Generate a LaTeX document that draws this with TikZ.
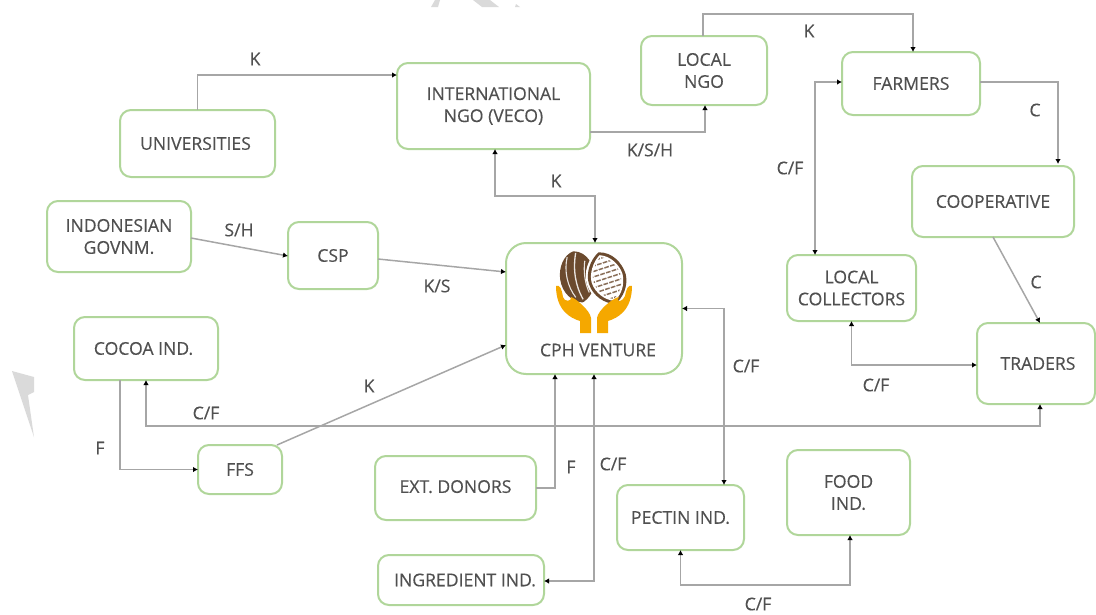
\documentclass[tikz,border=0pt]{standalone}
\usepackage{fontspec}
\setmainfont{Open Sans}[FakeBold=0.3]
\usetikzlibrary{arrows.meta}
\definecolor{boxgreen}{HTML}{B0D69A}
\definecolor{txt}{HTML}{505050}
\definecolor{conn}{HTML}{A6A6A6}
\definecolor{wm}{HTML}{DADADA}
\definecolor{hand}{HTML}{F5A800}
\definecolor{pod}{HTML}{6B4A2E}
\tikzset{
  x=1pt,y=-1pt,
  bx/.style={draw=boxgreen,line width=2pt,rounded corners=11pt,fill=white,align=center,
    text=txt,font=\fontsize{17.6}{22}\selectfont,inner sep=0pt,outer sep=0pt},
  lb/.style={text=txt,font=\fontsize{17.6}{20}\selectfont,inner sep=0pt},
  cn/.style={draw=conn,line width=1.5pt,-{Latex[length=5pt,width=5.5pt,black]}},
  cb/.style={draw=conn,line width=1.5pt,{Latex[length=5pt,width=5.5pt,black]}-{Latex[length=5pt,width=5.5pt,black]}},
}
\begin{document}
\begin{tikzpicture}
\useasboundingbox (0,0) rectangle (1096,614);
% watermark
\fill[wm] (431,7) -- (435,0) -- (440,0) -- (438,7) -- cycle;
\fill[wm] (473,0) -- (490,0) -- (499,7) -- (482,7) -- cycle;
\fill[wm] (515,7) -- (516,4) -- (520,7) -- cycle;
\fill[wm] (12,371) -- (34,377) -- (34,392) -- (28,395) -- (34,437) -- cycle;
% boxes
\node[bx,minimum width=155pt,minimum height=67pt] (uni) at (197.5,143.5) {UNIVERSITIES\kern4pt};
\node[bx,minimum width=193pt,minimum height=86pt] (intl) at (493.5,106) {INTERNATIONAL\\NGO (VECO)};
\node[bx,minimum width=126pt,minimum height=69pt] (lngo) at (704,70.5) {LOCAL\\NGO};
\node[bx,minimum width=138pt,minimum height=63pt] (farm) at (911,83.5) {FARMERS};
\node[bx,minimum width=162pt,minimum height=71pt] (coop) at (993,201.5) {COOPERATIVE};
\node[bx,minimum width=129pt,minimum height=66pt] (coll) at (851.5,288) {LOCAL\\COLLECTORS};
\node[bx,minimum width=118pt,minimum height=81pt] (trad) at (1036,363.5) {\kern4pt TRADERS};
\node[bx,minimum width=144pt,minimum height=71pt] (indo) at (119,236.5) {INDONESIAN\\GOVNM.};
\node[bx,minimum width=90pt,minimum height=67pt] (csp) at (333,255.5) {CSP};
\node[bx,minimum width=176pt,minimum height=131pt,rounded corners=20pt] (cph) at (594,308.5) {};
\node[bx,minimum width=144pt,minimum height=63pt] (coc) at (146,348.5) {COCOA IND.\kern5pt};
\node[bx,minimum width=84pt,minimum height=49pt] (ffs) at (240,469.5) {FFS};
\node[bx,minimum width=161pt,minimum height=64pt] (ext) at (455.5,488) {\raisebox{3pt}{EXT. DONORS}};
\node[bx,minimum width=127pt,minimum height=65pt] (pec) at (680.5,517.5) {PECTIN IND.};
\node[bx,minimum width=123pt,minimum height=85pt] (food) at (848.5,492.5) {FOOD\\IND.};
\node[bx,minimum width=166pt,minimum height=50pt] (ingr) at (461,580) {\kern8pt INGREDIENT IND.};
% logo: left pod
\begin{scope}[shift={(577,277)},rotate=8]
\fill[pod] (0,-26) .. controls (14,-24) and (19,-8) .. (18,3) .. controls (17,15) and (8,24) .. (2,26) .. controls (-8,24) and (-17,14) .. (-17,0) .. controls (-17,-12) and (-10,-24) .. (0,-26) -- cycle;
\draw[white!85!pod,line width=1.1pt] (-7,-21) .. controls (-12,-8) and (-11,8) .. (-4,20);
\draw[white!85!pod,line width=1.3pt] (2,-24) .. controls (-3,-8) and (-3,8) .. (3,23);
\draw[white!85!pod,line width=1.1pt] (10,-15) .. controls (7,-5) and (7,8) .. (10,17);
\end{scope}
% logo: right pod
\begin{scope}[shift={(607,278)},rotate=18]
\fill[white] (0,-29) .. controls (14,-25) and (21,-10) .. (21,2) .. controls (20,15) and (10,26) .. (0,29) .. controls (-12,26) and (-21,14) .. (-21,0) .. controls (-21,-12) and (-12,-25) .. (0,-29) -- cycle;
\fill[pod] (0,-27) .. controls (13,-23) and (19,-10) .. (19,2) .. controls (18,14) and (9,24) .. (0,27) .. controls (-10,24) and (-19,13) .. (-19,0) .. controls (-19,-11) and (-10,-23) .. (0,-27) -- cycle;
\fill[white] (0,-24) .. controls (10,-20) and (16,-9) .. (16,1) .. controls (15,12) and (8,21) .. (0,24) .. controls (-8,21) and (-16,11) .. (-16,0) .. controls (-16,-9) and (-8,-20) .. (0,-24) -- cycle;
\clip (0,-22) .. controls (9,-18) and (14,-8) .. (14,1) .. controls (13,11) and (7,19) .. (0,22) .. controls (-7,19) and (-14,10) .. (-14,0) .. controls (-14,-8) and (-7,-18) .. (0,-22) -- cycle;
\foreach \k in {-4,...,4}{\draw[pod!80,line width=1.5pt] (-18,{\k*5.2}) -- (18,{\k*5.2});}
\foreach \k in {-2,...,2}{\draw[white,line width=1.1pt] ({\k*6},-24) -- ({\k*6},24);}
\end{scope}
% logo: hands
\fill[hand] (556,286) .. controls (560,284) and (562,290) .. (563,297) .. controls (564,302) and (572,302) .. (571,297) .. controls (575,298) and (590,310) .. (591,318) -- (591,333) -- (580,333) -- (580,321) .. controls (570,318) and (556,310) .. (556,286) -- cycle;
\fill[hand] (632,286) .. controls (628,284) and (626,290) .. (625,296) .. controls (623,302) and (615,303) .. (619,297) .. controls (613,298) and (598,310) .. (597,318) -- (597,333) -- (608,333) -- (608,321) .. controls (618,318) and (632,310) .. (632,286) -- cycle;
\node[lb] (cphlabel) at (598,350) {CPH VENTURE};
% connectors
\draw[cn] (uni.north) |- ([yshift=31]intl.west);
\draw[cn] ([yshift=-26]intl.east) -| ([xshift=1]lngo.south);
\draw[cn] ([xshift=-1]lngo.north) |- (703,14) -| ([xshift=2]farm.north);
\draw[cn] ([yshift=1.5]farm.east) -| ([xshift=65,yshift=2]coop.north);
\draw[cn] (coop.south) -- ([xshift=4]trad.north);
\draw[cb] ([yshift=1.5]farm.west) -| ([xshift=-36.5]coll.north);
\draw[cb] (coll.south) |- ([yshift=-1.5]trad.west);
\draw[cb] ([xshift=4]trad.south) |- (500,426) -| (coc.south);
\draw[cb] ([xshift=1.5]intl.south) |- (595,196) -| ([xshift=1]cph.north);
\draw[cn] ([yshift=-1.5]indo.east) -- ([yshift=-0.5]csp.west);
\draw[cn] ([yshift=-3.5]csp.east) -- ([yshift=36.5]cph.west);
\draw[cn] ([xshift=37]ffs.north) -- ([yshift=-36.5]cph.west);
\draw[cn] ([xshift=-26]coc.south) |- (ffs.west);
\draw[cn] (ext.east) -| ([xshift=-39]cph.south);
\draw[cb] ([yshift=-1]ingr.east) -| (cph.south);
\draw[cb] (cph.east) -| ([xshift=43.5]pec.north);
\draw[cb] (pec.south) |- (760,585) -| ([xshift=1.5]food.south);
% labels
\node[lb] (l1) at (255,59) {K};
\node[lb] (l2) at (809,31) {K};
\node[lb] (l3) at (650,150) {K/S/H};
\node[lb] (l4) at (1035,110) {C};
\node[lb] (l5) at (790,168) {C/F};
\node[lb] (l6) at (1036,282) {C};
\node[lb] (l7) at (876,385) {C/F};
\node[lb] (l8) at (556,181) {K};
\node[lb] (l9) at (239,230) {S/H};
\node[lb] (l10) at (437,286) {K/S};
\node[lb] (l11) at (369,386) {K};
\node[lb] (l12) at (206,413) {C/F};
\node[lb] (l13) at (100,448) {F};
\node[lb] (l14) at (571,467) {F};
\node[lb] (l15) at (613,464) {C/F};
\node[lb] (l16) at (746,366) {C/F};
\node[lb] (l17) at (758,604) {C/F};
\end{tikzpicture}
\end{document}
